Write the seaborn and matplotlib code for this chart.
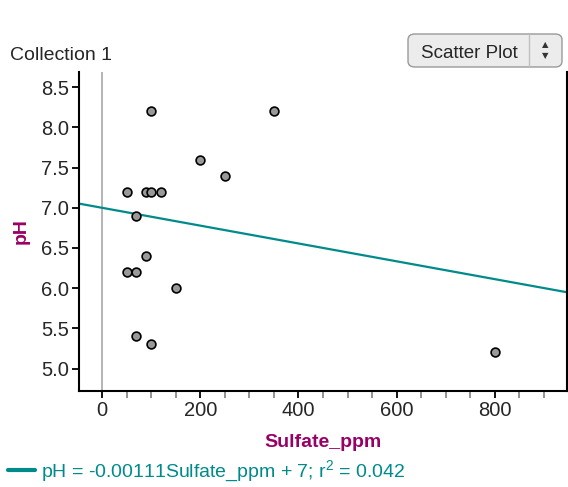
import numpy as np
import pandas as pd
import matplotlib.pyplot as plt
import seaborn as sns
from matplotlib.patches import FancyBboxPatch
from matplotlib.ticker import MultipleLocator

# values
sulfate_ppm = [100, 350, 200, 250, 50, 90, 100, 120, 70, 90, 50, 70, 150, 70, 100, 800]
ph = [8.2, 8.2, 7.6, 7.4, 7.2, 7.2, 7.2, 7.2, 6.9, 6.4, 6.2, 6.2, 6.0, 5.4, 5.3, 5.2]

# fit as printed under the chart
fit_slope = -0.00111
fit_intercept = 7.0
fit_r2 = 0.042

df = pd.DataFrame({'Sulfate_ppm': sulfate_ppm, 'pH': ph})

sns.set_theme(style='ticks')
plt.rcParams['font.family'] = ['Liberation Sans', 'DejaVu Sans']
plt.rcParams['mathtext.fontset'] = 'custom'
plt.rcParams['mathtext.rm'] = 'Liberation Sans'
plt.rcParams['mathtext.default'] = 'regular'

label_col = '#990066'
fit_col = '#008b8b'

fig = plt.figure(figsize=(5.68, 4.87), dpi=100)
ax = fig.add_axes([79 / 568, (487 - 391) / 487, (567 - 79) / 568, (391 - 72) / 487])

# zero line
ax.axvline(0, color='#a8a8a8', lw=1.2, zorder=1)

# regression line
ax.axline((0, fit_intercept), slope=fit_slope, color=fit_col, lw=1.6, zorder=2,
          label=f'pH = {fit_slope:.5f}Sulfate_ppm + {fit_intercept:g}; r$^2$ = {fit_r2:.3f}')

sns.scatterplot(data=df, x='Sulfate_ppm', y='pH', ax=ax, color='#999999',
                edgecolor='black', linewidth=1.2, s=40, zorder=3)

ax.set_xlim(-47, 947)
ax.set_ylim(4.72, 8.69)
ax.xaxis.set_major_locator(MultipleLocator(200))
ax.xaxis.set_minor_locator(MultipleLocator(50))
ax.yaxis.set_major_locator(MultipleLocator(0.5))
ax.yaxis.set_major_formatter(plt.FormatStrFormatter('%.1f'))

ax.tick_params(axis='both', which='major', labelsize=14.5, length=5, width=1.3,
               color='black', pad=2)
ax.tick_params(axis='x', which='minor', length=5, width=1.2, color='#808080')

ax.spines['top'].set_visible(False)
for side in ['left', 'bottom', 'right']:
    ax.spines[side].set_linewidth(1.5)
    ax.spines[side].set_color('black')

ax.set_xlabel('Sulfate_ppm', fontsize=14, fontweight='bold', color=label_col, labelpad=10)
ax.set_ylabel('pH', fontsize=14, fontweight='bold', color=label_col, labelpad=8)

leg = ax.legend(loc='lower left', bbox_to_anchor=(8 / 568, 3 / 487),
                bbox_transform=fig.transFigure, frameon=False, fontsize=14,
                handlelength=1.4, handletextpad=0.3, borderpad=0, borderaxespad=0)
for t in leg.get_texts():
    t.set_color(fit_col)
for h in leg.legend_handles:
    h.set_linewidth(3)

fig.text(10 / 568, 1 - 55 / 487, 'Collection 1', fontsize=14, va='center', ha='left')

# "Scatter Plot" selector
btn = FancyBboxPatch((408 / 568, 1 - 67 / 487), 154 / 568, 33 / 487,
                     boxstyle='round,pad=0,rounding_size=0.012',
                     transform=fig.transFigure, facecolor='#ececec',
                     edgecolor='#9a9a9a', lw=1)
fig.patches.append(btn)
fig.add_artist(plt.Line2D([529 / 568, 529 / 568], [1 - 66 / 487, 1 - 35 / 487],
                          transform=fig.transFigure, color='#c0c0c0', lw=1))
fig.text(469 / 568, 1 - 51 / 487, 'Scatter Plot', fontsize=13.5, ha='center',
         va='center_baseline')
fig.text(545 / 568, 1 - 45 / 487, '▲', fontsize=6, ha='center', va='center',
         family='DejaVu Sans', color='#333333')
fig.text(545 / 568, 1 - 56 / 487, '▼', fontsize=6, ha='center', va='center',
         family='DejaVu Sans', color='#333333')

fig.savefig('out.png', dpi=100)
